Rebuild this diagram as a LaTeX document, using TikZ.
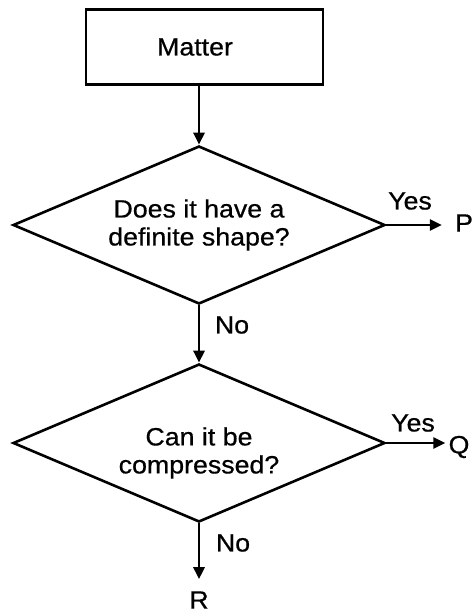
\documentclass[tikz,border=0pt]{standalone}
\usepackage{fontspec}
\setmainfont{Liberation Sans}[FakeStretch=1.07,FakeBold=0.6]
\usetikzlibrary{shapes.geometric,arrows.meta}
\tikzset{
  base/.style={line width=2.6pt, draw=black},
  procbox/.style={base, rectangle, minimum width=237pt, minimum height=75pt, inner sep=0pt,
    font=\fontsize{25}{28}\selectfont},
  decision/.style={base, diamond, aspect=2.4, minimum width=372pt, minimum height=158pt, inner sep=0pt,
    align=center, font=\fontsize{25}{28}\selectfont},
  lbl/.style={inner sep=0pt, font=\fontsize{25}{28}\selectfont},
  flow/.style={line width=2.6pt, -{Triangle[length=12pt,width=11pt]}}
}
\begin{document}
\begin{tikzpicture}[x=1pt,y=-1pt]
\useasboundingbox (0,0) rectangle (474,614);
\node[procbox] (matter) at (204.5,47) {\hspace*{-19pt}Matter};
\node[decision] (d1) at (199,225) {Does it have a\\definite shape?};
\node[decision] (d2) at (199,443) {\rule{0pt}{38pt}Can it be\\compressed?};
\node[lbl] (P) at (464,223) {P};
\node[lbl] (Q) at (459,447) {Q};
\node[lbl] (R) at (199,600) {R};
\node[lbl] (yes1) at (410,201) {Yes};
\node[lbl] (no1) at (232,325) {No};
\node[lbl] (yes2) at (413,423) {Yes};
\node[lbl] (no2) at (233,543) {No};
\draw[flow] (matter.south -| d1.north) -- (d1.north);
\draw[flow, shorten >=13pt] (d1.east) -- (d1.east -| P.west);
\draw[flow] (d1.south) -- (d2.north);
\draw[flow, shorten >=3pt] (d2.east) -- (d2.east -| Q.west);
\draw[flow, shorten >=12pt] (d2.south) -- (R.north);
\end{tikzpicture}
\end{document}
